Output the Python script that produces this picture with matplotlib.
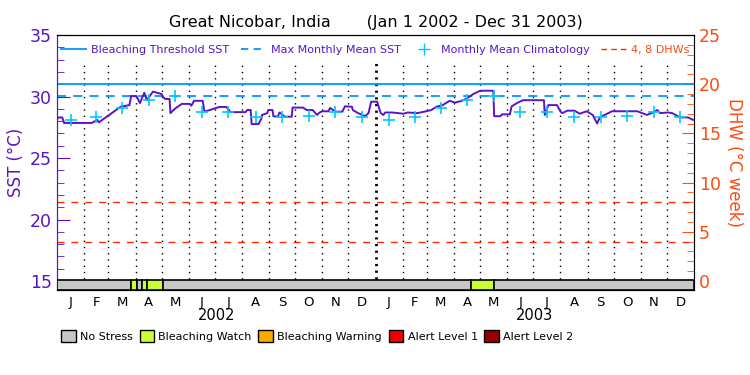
import matplotlib as mpl
mpl.use('Agg')
import matplotlib.pyplot as plt
from matplotlib.patches import Rectangle, Patch
from matplotlib.lines import Line2D
import pandas as pd

# dias desde 1 jan 2002 e SST diaria
dias = [0, 2, 6, 8, 40, 46, 48, 73, 83, 85, 91, 95, 100, 103, 110, 115, 120, 121,
        124, 129, 130, 135, 143, 152, 154, 157, 167, 169, 175, 186, 194, 199, 216,
        218, 222, 223, 231, 234, 235, 241, 242, 247, 248, 253, 255, 261, 269, 270,
        282, 286, 293, 298, 301, 304, 311, 313, 319, 327, 330, 338, 339, 345, 353,
        357, 360, 367, 368, 371, 374, 376, 384, 391, 397, 402, 413, 421, 429, 435,
        442, 450, 456, 464, 470, 477, 485, 500, 501, 508, 510, 519, 521, 528, 534,
        558, 559, 563, 573, 577, 579, 585, 593, 599, 607, 614, 619, 622, 636, 665,
        676, 683, 688, 691, 700, 705, 714, 723, 729]
sst = [28.17, 28.3, 28.3, 27.85, 27.85, 28.1, 27.9, 29.17, 29.3, 30.04, 30.04, 29.47,
       30.3, 29.7, 30.4, 30.3, 30.2, 30.0, 29.8, 29.8, 28.65, 29.0, 29.4, 29.4, 29.25,
       29.65, 29.65, 28.77, 28.9, 29.15, 29.15, 28.73, 28.73, 28.9, 28.9, 27.76, 27.76,
       28.17, 28.5, 28.65, 28.9, 28.9, 28.4, 28.36, 28.7, 28.36, 28.36, 29.1, 29.1,
       28.9, 28.9, 28.5, 28.7, 28.8, 28.8, 29.07, 28.77, 28.77, 29.2, 29.17, 28.9,
       28.65, 28.4, 28.65, 29.58, 29.58, 29.3, 28.65, 28.5, 28.7, 28.7, 28.65, 28.6,
       28.7, 28.65, 28.77, 28.9, 29.17, 29.3, 29.65, 29.5, 29.65, 29.85, 30.2, 30.47,
       30.47, 28.4, 28.4, 28.55, 28.55, 29.2, 29.5, 29.7, 29.7, 28.5, 29.3, 29.3,
       28.77, 28.65, 28.85, 28.85, 28.6, 28.8, 28.5, 27.8, 28.3, 28.8, 28.8, 28.5,
       28.7, 28.9, 28.65, 28.7, 28.65, 28.3, 28.3, 28.1]

clim = [28.1, 28.35, 29.1, 29.7, 30.05, 28.75, 28.7, 28.35, 28.3, 28.45, 28.7, 28.3]
mmm = 30.05
limiar = 31.05
dhws = [4, 8]

meses = ['J', 'F', 'M', 'A', 'M', 'J', 'J', 'A', 'S', 'O', 'N', 'D']
anos = ['2002', '2003']

estresse_ini = [0, 84.5, 91.3, 97, 103.5, 121.8, 474, 501]
estresse_fim = [84.5, 91.3, 97, 103.5, 121.8, 474, 501, 730]
estresse_nivel = [0, 1, 0, 1, 1, 0, 1, 0]
niveis_nomes = ['No Stress', 'Bleaching Watch', 'Bleaching Warning', 'Alert Level 1', 'Alert Level 2']
niveis_cores = ['#c8c8c8', '#ccff33', '#ffaa00', '#f00000', '#960000']

roxo = '#5a14c8'
laranja = '#ff4a10'

inicio = pd.Timestamp('2002-01-01')
ini_meses = pd.date_range('2002-01-01', '2004-01-01', freq='MS')
pos_meses = [(d - inicio).days for d in ini_meses]
meio_meses = [(a + b) / 2 for a, b in zip(pos_meses[:-1], pos_meses[1:])]

fig = plt.figure(figsize=(7.5, 3.75), dpi=100)
ax = fig.add_axes([57 / 750, 1 - 290 / 375, 637 / 750, 255 / 375])
ax2 = ax.twinx()
ax.set_zorder(ax2.get_zorder() + 1)
ax.patch.set_visible(False)

ax.set_xlim(0, 730)
ax.set_ylim(14.27, 35)
ax2.set_ylim(-0.915, 25)

# linhas pontilhadas dos meses (abaixo da legenda)
for p in pos_meses[1:-1]:
    if p == 365:
        ax.plot([p, p], [15.2, 32.8], color='black', linestyle=(0, (0.8, 1.6)), linewidth=2, zorder=1)
    else:
        ax.plot([p, p], [15.2, 32.8], color='black', linestyle=(0, (1, 3.5)), linewidth=1, zorder=1)

for d in dhws:
    ax.axhline(14.27 + (d + 0.915) * (35 - 14.27) / 25.915, color='#ff2a00', linewidth=1,
               linestyle=(0, (5, 5)), zorder=2)

ax.axhline(limiar, color='#0096ff', linewidth=1.3, zorder=2)
ax.axhline(mmm, color='#0096ff', linewidth=1.3, linestyle=(0, (5, 4)), zorder=2)
ax.plot(dias, sst, color=roxo, linewidth=1.4, zorder=4)
ax.plot(meio_meses, clim * 2, linestyle='none', marker='+', markersize=9,
        markeredgewidth=1.2, color='#00c8ff', zorder=5)

# barra de estresse
for a, b, n in zip(estresse_ini, estresse_fim, estresse_nivel):
    ax.add_patch(Rectangle((a, 14.27), b - a, 15.07 - 14.27, facecolor=niveis_cores[n],
                           edgecolor='black', linewidth=1.2, zorder=6))

ax.set_xticks(meio_meses)
ax.set_xticklabels(meses * 2, fontsize=9.5)
ax.tick_params(axis='x', length=0, pad=4)
for i, ano in enumerate(anos):
    ax.text(182.5 + 365 * i, -0.1, ano, transform=ax.get_xaxis_transform(),
            ha='center', va='center', fontsize=10.5)

ax.set_yticks([15, 20, 25, 30, 35])
ax.set_yticks(range(15, 36), minor=True)
ax.tick_params(axis='y', which='both', direction='in', colors=roxo, labelsize=12.5)
ax.tick_params(axis='y', which='major', length=9)
ax.tick_params(axis='y', which='minor', length=5)
ax.set_ylabel('SST (°C)', color=roxo, fontsize=12, labelpad=4)

ax2.set_yticks([0, 5, 10, 15, 20, 25])
ax2.set_yticks(range(0, 26), minor=True)
ax2.tick_params(axis='y', which='both', direction='in', colors=laranja, labelsize=12.5)
ax2.tick_params(axis='y', which='major', length=9)
ax2.tick_params(axis='y', which='minor', length=5)
ax2.set_ylabel('DHW (°C week)', color=laranja, fontsize=12, rotation=270, labelpad=16)

ax.spines['left'].set_color(roxo)
ax2.spines['left'].set_color(roxo)
ax2.spines['right'].set_color(laranja)

ax.set_title('Great Nicobar, India       (Jan 1 2002 - Dec 31 2003)', fontsize=11.5, pad=6)

alcas = [Line2D([], [], color='#0096ff', linewidth=1.3),
         Line2D([], [], color='#0096ff', linewidth=1.3, linestyle=(0, (4, 3))),
         Line2D([], [], color='#00c8ff', marker='+', linestyle='none', markersize=9),
         Line2D([], [], color='#ff2a00', linewidth=1, linestyle=(0, (4, 3)))]
nomes = ['Bleaching Threshold SST', 'Max Monthly Mean SST', 'Monthly Mean Climatology', '4, 8 DHWs']
leg = ax.legend(alcas, nomes, loc='upper center', bbox_to_anchor=(0.5, 0.995), ncol=4,
                fontsize=8, frameon=False,
                handlelength=2.2, handletextpad=0.5, columnspacing=1.0, borderpad=0.3)
for t, c in zip(leg.get_texts(), [roxo, roxo, roxo, laranja]):
    t.set_color(c)

quadros = [Patch(facecolor=c, edgecolor='black') for c in niveis_cores]
fig.legend(quadros, niveis_nomes, loc='center', bbox_to_anchor=(0.423, 1 - 336 / 375), ncol=5,
           frameon=False, fontsize=8, handlelength=1.3, handleheight=1.2,
           handletextpad=0.4, columnspacing=0.6)

fig.savefig('out.png')
